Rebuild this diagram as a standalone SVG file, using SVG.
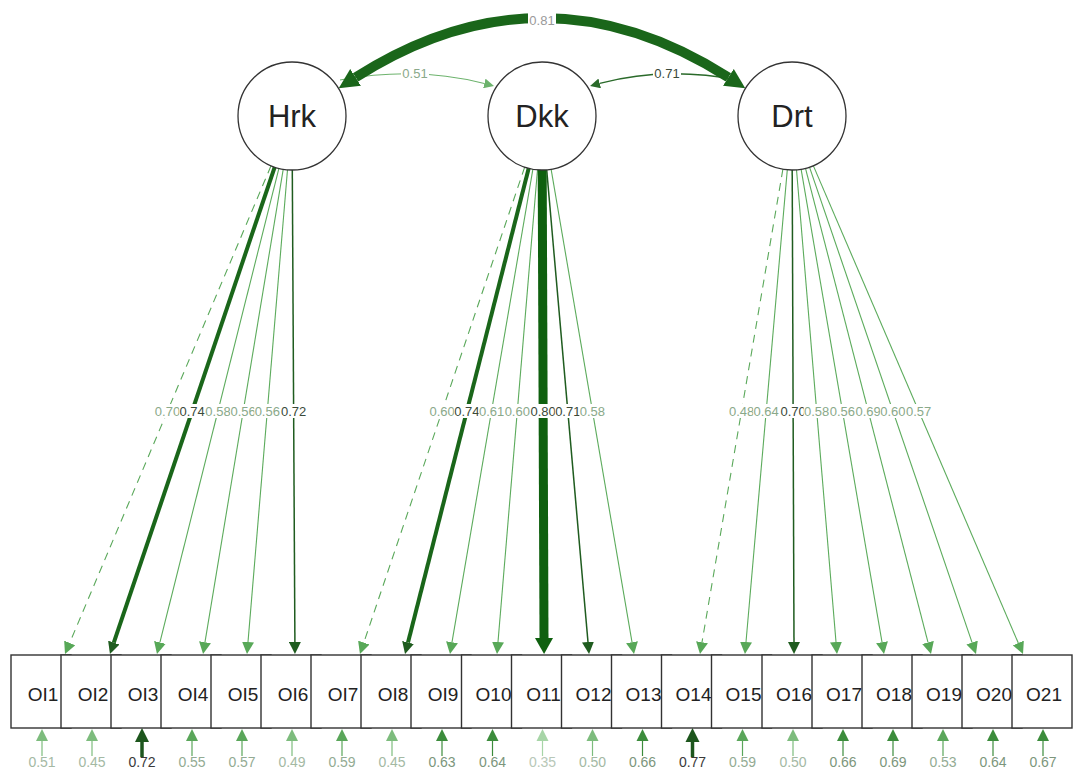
<svg xmlns="http://www.w3.org/2000/svg" width="1074" height="773" viewBox="0 0 1074 773">
<style>
text{font-family:"Liberation Sans",Arial,sans-serif}
.lat{fill:#fff;stroke:#333;stroke-width:1.3}
.latt{font-size:31px;fill:#222;text-anchor:middle}
.box{fill:#fff;stroke:#333;stroke-width:1.4}
.boxt{font-size:19px;fill:#222;text-anchor:middle}
.e{fill:none}
.el{stroke:#5cab5c;stroke-width:1.1}
.ed{stroke:#1f5c1f;stroke-width:1.5}
.eth{stroke:#1a661a;stroke-width:4}
.evt{stroke:#0f600f;stroke-width:9}
.dash{stroke:#5aa85a;stroke-width:1.1;stroke-dasharray:8 6}
.arc{stroke:#1a661a;stroke-width:10}
.cl{stroke:#6db36d;stroke-width:1.1}
.cd{stroke:#2a6a2a;stroke-width:1.4}
.lb{fill:#fff}
.lt{font-size:13px;text-anchor:middle;fill:#8aa98a}
.ltd{fill:#3a4a3a}
.ltg{fill:#9a9a9a}
.rt{font-size:14px;text-anchor:middle}
.r1{color:#a7d5a7;fill:#b8c8b8}
.r2{color:#7dbc7d;fill:#a4b9a4}
.r3{color:#5aa65a;fill:#93ab93}
.r4{color:#3c8c3c;fill:#7c967c}
.r5{color:#1d561d;fill:#3a3a3a}
</style>
<defs>
<marker id="mL" markerUnits="userSpaceOnUse" viewBox="0 0 12 12" markerWidth="12" markerHeight="12" refX="0" refY="6" orient="auto"><path d="M0,0 L12,6 L0,12 z" fill="#58a858"/></marker>
<marker id="mD" markerUnits="userSpaceOnUse" viewBox="0 0 12 12" markerWidth="12" markerHeight="12" refX="0" refY="6" orient="auto"><path d="M0,0 L12,6 L0,12 z" fill="#1f5c1f"/></marker>
<marker id="mT" markerUnits="userSpaceOnUse" viewBox="0 0 16 18" markerWidth="16" markerHeight="18" refX="0" refY="9" orient="auto"><path d="M0,0 L16,9 L0,18 z" fill="#0f600f"/></marker>
<marker id="mA" markerUnits="userSpaceOnUse" viewBox="0 0 20 20" markerWidth="20" markerHeight="20" refX="0" refY="10" orient="auto-start-reverse"><path d="M0,0 L20,10 L0,20 z" fill="#1a661a"/></marker>
<marker id="mCL" markerUnits="userSpaceOnUse" viewBox="0 0 10 10" markerWidth="10" markerHeight="10" refX="0" refY="5" orient="auto"><path d="M0,0 L10,5 L0,10 z" fill="#6db36d"/></marker>
<marker id="mCD" markerUnits="userSpaceOnUse" viewBox="0 0 10 10" markerWidth="10" markerHeight="10" refX="0" refY="5" orient="auto"><path d="M0,0 L10,5 L0,10 z" fill="#2a6a2a"/></marker>
<g id="res"><line x1="0" y1="740" x2="0" y2="756" stroke="currentColor" stroke-width="1.2"/><path d="M0,729 L6,741 L-6,741 Z" fill="currentColor"/></g>
<g id="resB"><line x1="0" y1="740" x2="0" y2="757" stroke="currentColor" stroke-width="3.5"/><path d="M0,728 L7,742 L-7,742 Z" fill="currentColor"/></g>
</defs>
<rect width="1074" height="773" fill="#fff"/>

<g id="connectors">
  <!-- factor covariances -->
  <path class="e cl" d="M340,80 Q416,66 484.3,83.5" marker-end="url(#mCL)"/>
  <path class="e cd" d="M738,80 Q665,66 599.7,83.4" marker-end="url(#mCD)"/>
  <path class="e arc" d="M355.6,77.4 Q542,-41.4 728.4,77.4" marker-start="url(#mA)" marker-end="url(#mA)"/>
  <!-- Hrk loadings -->
  <path class="e dash" d="M271.0,165.8 L69.7,642.9" marker-end="url(#mL)"/>
  <path class="e eth" d="M274.7,167.1 L113.8,642.6" marker-end="url(#mD)"/>
  <path class="e el" d="M278.9,168.4 L159.9,642.4" marker-end="url(#mL)"/>
  <path class="e el" d="M283.2,169.3 L205.0,642.2" marker-end="url(#mL)"/>
  <path class="e el" d="M287.5,169.8 L248.0,642.0" marker-end="url(#mL)"/>
  <path class="e ed" d="M292.3,170 L294.9,642" marker-end="url(#mD)"/>
  <!-- Dkk loadings -->
  <path class="e dash" d="M524.7,167.1 L363.8,642.6" marker-end="url(#mL)"/>
  <path class="e eth" d="M528.7,168.3 L408.0,642.4" marker-end="url(#mD)"/>
  <path class="e el" d="M532.9,169.2 L452.0,642.2" marker-end="url(#mL)"/>
  <path class="e el" d="M537.5,169.8 L498.0,642.0" marker-end="url(#mL)"/>
  <path class="e evt" d="M542.2,170 L544,638" marker-end="url(#mT)"/>
  <path class="e ed" d="M546.7,169.8 L588.0,642.0" marker-end="url(#mD)"/>
  <path class="e el" d="M551.1,169.2 L632.0,642.2" marker-end="url(#mL)"/>
  <!-- Drt loadings -->
  <path class="e dash" d="M782.9,169.2 L702.0,642.2" marker-end="url(#mL)"/>
  <path class="e el" d="M787.3,169.8 L746.0,642.0" marker-end="url(#mL)"/>
  <path class="e ed" d="M792.2,170 L794,642" marker-end="url(#mD)"/>
  <path class="e el" d="M796.5,169.8 L836.0,642.0" marker-end="url(#mL)"/>
  <path class="e el" d="M801.1,169.2 L882.0,642.2" marker-end="url(#mL)"/>
  <path class="e el" d="M805.5,168.3 L928.0,642.4" marker-end="url(#mL)"/>
  <path class="e el" d="M809.5,167.1 L972.1,642.6" marker-end="url(#mL)"/>
  <path class="e el" d="M813.3,165.6 L1018.3,643.0" marker-end="url(#mL)"/>
  <!-- residual arrows -->
  <use href="#res" x="42" class="r2"/>
  <use href="#res" x="92" class="r2"/>
  <use href="#resB" x="142" class="r5"/>
  <use href="#res" x="192" class="r3"/>
  <use href="#res" x="242" class="r3"/>
  <use href="#res" x="292" class="r2"/>
  <use href="#res" x="342" class="r3"/>
  <use href="#res" x="392" class="r2"/>
  <use href="#res" x="442" class="r4"/>
  <use href="#res" x="492.5" class="r4"/>
  <use href="#res" x="542.5" class="r1"/>
  <use href="#res" x="592.5" class="r2"/>
  <use href="#res" x="642.5" class="r4"/>
  <use href="#resB" x="692.5" class="r5"/>
  <use href="#res" x="742.5" class="r3"/>
  <use href="#res" x="793" class="r2"/>
  <use href="#res" x="843" class="r4"/>
  <use href="#res" x="893" class="r4"/>
  <use href="#res" x="943" class="r3"/>
  <use href="#res" x="993" class="r4"/>
  <use href="#res" x="1043" class="r4"/>
</g>

<g id="edge-labels">
  <rect class="lb" x="528" y="13" width="28" height="15"/><text class="lt ltg" x="542" y="25">0.81</text>
  <rect class="lb" x="401" y="66" width="28" height="15"/><text class="lt" x="415" y="78">0.51</text>
  <rect class="lb" x="653" y="66" width="28" height="15"/><text class="lt ltd" x="667" y="78">0.71</text>

  <rect class="lb" x="154.5" y="404" width="26" height="14"/><text class="lt" x="167.5" y="416">0.70</text>
  <rect class="lb" x="179.2" y="404" width="26" height="14"/><text class="lt ltd" x="192.2" y="416">0.74</text>
  <rect class="lb" x="205" y="404" width="26" height="14"/><text class="lt" x="218" y="416">0.58</text>
  <rect class="lb" x="230.2" y="404" width="26" height="14"/><text class="lt" x="243.2" y="416">0.56</text>
  <rect class="lb" x="254.3" y="404" width="26" height="14"/><text class="lt" x="267.3" y="416">0.56</text>
  <rect class="lb" x="280.6" y="404" width="26" height="14"/><text class="lt ltd" x="293.6" y="416">0.72</text>

  <rect class="lb" x="429.2" y="404" width="26" height="14"/><text class="lt" x="442.2" y="416">0.60</text>
  <rect class="lb" x="453.9" y="404" width="26" height="14"/><text class="lt ltd" x="466.9" y="416">0.74</text>
  <rect class="lb" x="478.6" y="404" width="26" height="14"/><text class="lt" x="491.6" y="416">0.61</text>
  <rect class="lb" x="504.3" y="404" width="26" height="14"/><text class="lt" x="517.3" y="416">0.60</text>
  <rect class="lb" x="530.1" y="404" width="26" height="14"/><text class="lt ltd" x="543.1" y="416">0.80</text>
  <rect class="lb" x="554.8" y="404" width="26" height="14"/><text class="lt ltd" x="567.8" y="416">0.71</text>
  <rect class="lb" x="579.4" y="404" width="26" height="14"/><text class="lt" x="592.4" y="416">0.58</text>

  <rect class="lb" x="728.6" y="404" width="26" height="14"/><text class="lt" x="741.6" y="416">0.48</text>
  <rect class="lb" x="753.2" y="404" width="26" height="14"/><text class="lt" x="766.2" y="416">0.64</text>
  <rect class="lb" x="780.1" y="404" width="26" height="14"/><text class="lt ltd" x="793.1" y="416">0.70</text>
  <rect class="lb" x="803.7" y="404" width="26" height="14"/><text class="lt" x="816.7" y="416">0.58</text>
  <rect class="lb" x="829.4" y="404" width="26" height="14"/><text class="lt" x="842.4" y="416">0.56</text>
  <rect class="lb" x="855.2" y="404" width="26" height="14"/><text class="lt" x="868.2" y="416">0.69</text>
  <rect class="lb" x="879.9" y="404" width="26" height="14"/><text class="lt" x="892.9" y="416">0.60</text>
  <rect class="lb" x="905.7" y="404" width="26" height="14"/><text class="lt" x="918.7" y="416">0.57</text>

  <text class="rt r2" x="42" y="767">0.51</text>
  <text class="rt r2" x="92" y="767">0.45</text>
  <text class="rt r5" x="142" y="767">0.72</text>
  <text class="rt r3" x="192" y="767">0.55</text>
  <text class="rt r3" x="242" y="767">0.57</text>
  <text class="rt r2" x="292" y="767">0.49</text>
  <text class="rt r3" x="342" y="767">0.59</text>
  <text class="rt r2" x="392" y="767">0.45</text>
  <text class="rt r4" x="442" y="767">0.63</text>
  <text class="rt r4" x="492.5" y="767">0.64</text>
  <text class="rt r1" x="542.5" y="767">0.35</text>
  <text class="rt r2" x="592.5" y="767">0.50</text>
  <text class="rt r4" x="642.5" y="767">0.66</text>
  <text class="rt r5" x="692.5" y="767">0.77</text>
  <text class="rt r3" x="742.5" y="767">0.59</text>
  <text class="rt r2" x="793" y="767">0.50</text>
  <text class="rt r4" x="843" y="767">0.66</text>
  <text class="rt r4" x="893" y="767">0.69</text>
  <text class="rt r3" x="943" y="767">0.53</text>
  <text class="rt r4" x="993" y="767">0.64</text>
  <text class="rt r4" x="1043" y="767">0.67</text>
</g>

<g id="Hrk"><circle class="lat" cx="292" cy="116" r="54"/><text class="latt" x="292" y="127">Hrk</text></g>
<g id="Dkk"><circle class="lat" cx="542" cy="116" r="54"/><text class="latt" x="542" y="127">Dkk</text></g>
<g id="Drt"><circle class="lat" cx="792" cy="116" r="54"/><text class="latt" x="792" y="127">Drt</text></g>

<g id="OI1"><rect class="box" x="11" y="655" width="60" height="73"/><text class="boxt" x="43" y="701">OI1</text></g>
<g id="OI2"><rect class="box" x="61" y="655" width="60" height="73"/><text class="boxt" x="93" y="701">OI2</text></g>
<g id="OI3"><rect class="box" x="111" y="655" width="60" height="73"/><text class="boxt" x="143" y="701">OI3</text></g>
<g id="OI4"><rect class="box" x="161" y="655" width="60" height="73"/><text class="boxt" x="193" y="701">OI4</text></g>
<g id="OI5"><rect class="box" x="211" y="655" width="60" height="73"/><text class="boxt" x="243" y="701">OI5</text></g>
<g id="OI6"><rect class="box" x="261" y="655" width="60" height="73"/><text class="boxt" x="293" y="701">OI6</text></g>
<g id="OI7"><rect class="box" x="311" y="655" width="60" height="73"/><text class="boxt" x="343" y="701">OI7</text></g>
<g id="OI8"><rect class="box" x="361" y="655" width="60" height="73"/><text class="boxt" x="393" y="701">OI8</text></g>
<g id="OI9"><rect class="box" x="411" y="655" width="60" height="73"/><text class="boxt" x="443" y="701">OI9</text></g>
<g id="O10"><rect class="box" x="461.5" y="655" width="60" height="73"/><text class="boxt" x="493.5" y="701">O10</text></g>
<g id="O11"><rect class="box" x="511.5" y="655" width="60" height="73"/><text class="boxt" x="543.5" y="701">O11</text></g>
<g id="O12"><rect class="box" x="561.5" y="655" width="60" height="73"/><text class="boxt" x="593.5" y="701">O12</text></g>
<g id="O13"><rect class="box" x="611.5" y="655" width="60" height="73"/><text class="boxt" x="643.5" y="701">O13</text></g>
<g id="O14"><rect class="box" x="661.5" y="655" width="60" height="73"/><text class="boxt" x="693.5" y="701">O14</text></g>
<g id="O15"><rect class="box" x="711.5" y="655" width="60" height="73"/><text class="boxt" x="743.5" y="701">O15</text></g>
<g id="O16"><rect class="box" x="762" y="655" width="60" height="73"/><text class="boxt" x="794" y="701">O16</text></g>
<g id="O17"><rect class="box" x="812" y="655" width="60" height="73"/><text class="boxt" x="844" y="701">O17</text></g>
<g id="O18"><rect class="box" x="862" y="655" width="60" height="73"/><text class="boxt" x="894" y="701">O18</text></g>
<g id="O19"><rect class="box" x="912" y="655" width="60" height="73"/><text class="boxt" x="944" y="701">O19</text></g>
<g id="O20"><rect class="box" x="962" y="655" width="60" height="73"/><text class="boxt" x="994" y="701">O20</text></g>
<g id="O21"><rect class="box" x="1012" y="655" width="60" height="73"/><text class="boxt" x="1044" y="701">O21</text></g>
</svg>
